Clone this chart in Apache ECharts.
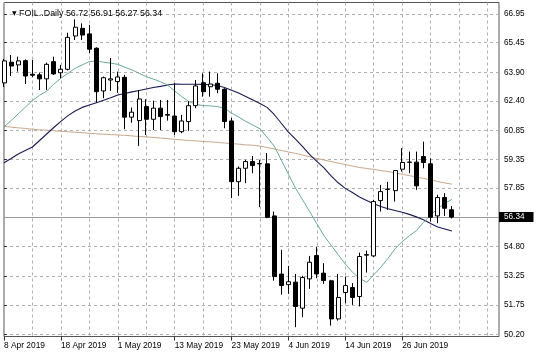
<!DOCTYPE html>
<html>
<head>
<meta charset="utf-8">
<script src="https://cdn.jsdelivr.net/npm/echarts@6/dist/echarts.min.js"></script>
<style>
html,body{margin:0;padding:0;background:#fff;}
#c{width:536px;height:358px;}
</style>
</head>
<body>
<div id="c"></div>
<script>
const dates = ['8 Apr 2019','9 Apr 2019','10 Apr 2019','11 Apr 2019','12 Apr 2019','15 Apr 2019','16 Apr 2019','17 Apr 2019','18 Apr 2019','22 Apr 2019','23 Apr 2019','24 Apr 2019','25 Apr 2019','26 Apr 2019','29 Apr 2019','30 Apr 2019','1 May 2019','2 May 2019','3 May 2019','6 May 2019','7 May 2019','8 May 2019','9 May 2019','10 May 2019','13 May 2019','14 May 2019','15 May 2019','16 May 2019','17 May 2019','20 May 2019','21 May 2019','22 May 2019','23 May 2019','24 May 2019','27 May 2019','28 May 2019','29 May 2019','30 May 2019','31 May 2019','3 Jun 2019','4 Jun 2019','5 Jun 2019','6 Jun 2019','7 Jun 2019','10 Jun 2019','11 Jun 2019','12 Jun 2019','13 Jun 2019','14 Jun 2019','17 Jun 2019','18 Jun 2019','19 Jun 2019','20 Jun 2019','21 Jun 2019','24 Jun 2019','25 Jun 2019','26 Jun 2019','27 Jun 2019','28 Jun 2019','1 Jul 2019','2 Jul 2019','3 Jul 2019','4 Jul 2019','5 Jul 2019'];

const openP  = [63.35,64.43,64.29,64.51,63.80,63.77,63.56,64.46,63.88,64.06,65.80,66.20,65.91,65.16,62.93,63.50,63.42,63.64,61.56,61.38,62.11,61.45,62.03,61.66,61.62,60.80,61.33,62.16,63.36,63.15,63.33,63.02,61.36,58.19,58.89,59.24,59.12,59.12,56.40,53.36,52.81,52.94,51.58,53.11,54.33,53.41,53.01,51.02,52.40,52.66,52.19,54.35,54.31,57.20,57.78,57.72,58.84,59.21,59.21,59.50,59.12,56.40,57.36,56.72];
const closeP = [64.50,64.23,64.50,63.71,63.75,63.56,64.32,63.82,64.06,65.73,66.26,65.85,65.11,62.89,63.62,63.56,63.66,61.56,61.82,62.51,61.45,62.03,61.59,61.70,60.80,61.36,62.16,63.19,62.89,63.29,63.02,61.33,58.19,58.89,59.24,59.03,59.14,56.33,53.23,52.76,52.96,51.67,53.18,53.98,53.37,53.02,51.02,52.14,52.76,52.14,54.28,54.38,57.15,57.67,57.80,58.77,59.19,59.20,57.97,59.19,56.33,57.36,56.80,56.34];
const lowP   = [63.14,63.71,63.94,63.29,63.65,62.98,62.98,63.77,63.59,64.00,65.59,65.59,64.90,62.32,62.55,62.93,62.83,60.93,61.27,60.06,60.63,60.89,60.89,61.38,60.63,60.72,60.85,62.03,62.63,62.63,62.81,60.98,57.33,57.45,58.11,58.63,56.86,56.28,53.02,52.28,52.33,50.59,51.11,52.59,53.15,52.85,50.67,50.93,51.84,51.75,51.67,53.44,54.25,56.63,56.72,57.15,58.72,58.63,57.76,58.89,56.10,56.02,56.40,56.27];
const highP  = [64.60,64.81,64.72,64.58,64.55,63.89,64.41,64.72,64.29,65.97,66.67,66.46,66.38,65.21,63.68,64.65,63.94,63.77,62.06,62.98,62.50,62.42,62.46,62.46,63.33,61.68,62.40,63.50,63.85,63.94,63.85,63.07,61.52,58.98,59.33,59.53,59.33,59.68,56.63,54.63,53.79,53.37,53.27,54.31,54.77,53.93,53.06,53.37,53.23,52.89,54.48,54.59,57.24,58.02,58.18,58.80,59.94,59.76,59.76,60.28,59.41,57.50,57.59,56.91];

const maFast = [61.05,61.38,61.73,62.08,62.43,62.70,62.92,63.28,63.59,63.85,64.11,64.29,64.46,64.50,64.43,64.38,64.32,64.17,64.03,63.85,63.68,63.55,63.41,63.24,62.93,62.63,62.37,62.23,62.16,62.15,62.11,62.03,61.77,61.57,61.34,61.15,60.95,60.51,60.05,59.32,58.58,57.85,57.24,56.62,55.99,55.37,54.87,54.38,53.89,53.46,53.14,52.93,53.32,53.72,54.18,54.68,55.06,55.36,55.63,56.06,56.45,56.78,57.06,57.26];
const maMid  = [59.18,59.40,59.63,59.82,60.00,60.34,60.68,61.02,61.34,61.64,61.88,62.07,62.19,62.31,62.44,62.57,62.72,62.80,62.88,62.95,63.03,63.11,63.17,63.24,63.29,63.28,63.28,63.28,63.27,63.25,63.21,63.11,62.97,62.82,62.64,62.46,62.27,62.07,61.70,61.24,60.78,60.41,60.02,59.60,59.25,58.91,58.49,58.13,57.84,57.62,57.39,57.21,57.03,56.89,56.77,56.68,56.59,56.48,56.35,56.20,56.00,55.82,55.72,55.61];
const maSlow = [61.08,61.04,61.00,60.97,60.93,60.90,60.88,60.85,60.82,60.80,60.77,60.75,60.72,60.69,60.67,60.65,60.63,60.61,60.58,60.55,60.53,60.50,60.47,60.44,60.40,60.37,60.34,60.32,60.29,60.27,60.24,60.21,60.18,60.15,60.11,60.09,60.05,59.97,59.90,59.82,59.74,59.67,59.58,59.49,59.40,59.32,59.24,59.16,59.08,59.01,58.93,58.88,58.83,58.77,58.72,58.65,58.57,58.51,58.43,58.36,58.28,58.20,58.12,58.06];

const yTickLabels = [66.95, 65.45, 63.90, 62.40, 60.85, 59.35, 57.85, 54.80, 53.25, 51.75, 50.20];
const xLabelIdx = [0, 8, 16, 24, 32, 40, 48, 56];

const symbolName = 'FOIL..Daily';
const last = dates.length - 1;
const lastClose = closeP[last];

const candleData = dates.map((d, i) => [i, openP[i], closeP[i], lowP[i], highP[i]]);
const lineData = arr => arr.map((v, i) => [i, v]);

const font = 'Liberation Sans, Arial, sans-serif';
const xMax = 69.62;

const chart = echarts.init(document.getElementById('c'), null, {renderer: 'canvas'});
chart.setOption({
  animation: false,
  backgroundColor: '#fff',
  title: {
    left: 7, top: 4,
    text: '{tri|▼} ' + symbolName + ' ' + [openP[last], highP[last], lowP[last], closeP[last]].map(v => v.toFixed(2)).join(' '),
    textStyle: {
      fontFamily: font, fontSize: 8.9, fontWeight: 'normal', color: '#000',
      rich: { tri: { fontSize: 6, color: '#000', fontFamily: 'DejaVu Sans' } }
    }
  },
  grid: {
    left: 4, right: 37, top: 2.5, bottom: 21.5,
    show: true, borderColor: '#555', borderWidth: 1, backgroundColor: 'transparent'
  },
  xAxis: [{
    type: 'value', min: 0, max: xMax, interval: 4,
    axisLine: {show: false},
    axisTick: {show: false},
    splitLine: {show: true, lineStyle: {color: '#b0b0b0', type: [3, 3], width: 1}},
    axisLabel: {
      show: true, color: '#000', fontFamily: font, fontSize: 8.4, align: 'left', margin: 5,
      formatter: v => (xLabelIdx.indexOf(v) >= 0 && dates[v]) ? dates[v] : ''
    }
  }, {
    type: 'value', min: 0, max: xMax, position: 'bottom',
    axisLine: {show: false},
    axisTick: {show: true, length: 4, customValues: xLabelIdx, lineStyle: {color: '#333'}},
    axisLabel: {show: false},
    splitLine: {show: false}
  }],
  yAxis: {
    type: 'value', position: 'right', min: 50.10, max: 67.55, scale: true,
    axisLine: {show: false},
    axisTick: {show: true, length: 3, customValues: yTickLabels, lineStyle: {color: '#333'}},
    splitLine: {show: true, lineStyle: {color: '#b0b0b0', type: [3, 3], width: 1}},
    axisLabel: {
      show: true, customValues: yTickLabels, color: '#000', fontFamily: font, fontSize: 8.2, margin: 5,
      formatter: v => Number(v).toFixed(2)
    }
  },
  series: [{
    type: 'line', name: 'slow', data: lineData(maSlow), showSymbol: false, z: 2,
    lineStyle: {color: '#c9a888', width: 1}
  }, {
    type: 'line', name: 'mid', data: lineData(maMid), showSymbol: false, z: 2,
    lineStyle: {color: '#1a1a55', width: 1.1}
  }, {
    type: 'line', name: 'fast', data: lineData(maFast), showSymbol: false, z: 2,
    lineStyle: {color: '#6aaa92', width: 1}
  }, {
    type: 'candlestick', name: 'FOIL', z: 3,
    data: candleData,
    encode: {x: 0, y: [1, 2, 3, 4]},
    barWidth: 4.5,
    itemStyle: {color: '#fff', color0: '#000', borderColor: '#000', borderColor0: '#000', borderColorDoji: '#000', borderWidth: 1},
    markLine: {
      silent: true, symbol: ['none', 'none'], z: 1,
      lineStyle: {color: '#9a9a9a', type: 'solid', width: 1},
      label: {
        show: true, position: 'end', distance: 0,
        formatter: () => lastClose.toFixed(2),
        backgroundColor: '#000', color: '#fff', fontFamily: font, fontSize: 8.2,
        padding: [1, 9, 0, 5], lineHeight: 9
      },
      data: [{yAxis: lastClose}]
    }
  }]
});
</script>
</body>
</html>
